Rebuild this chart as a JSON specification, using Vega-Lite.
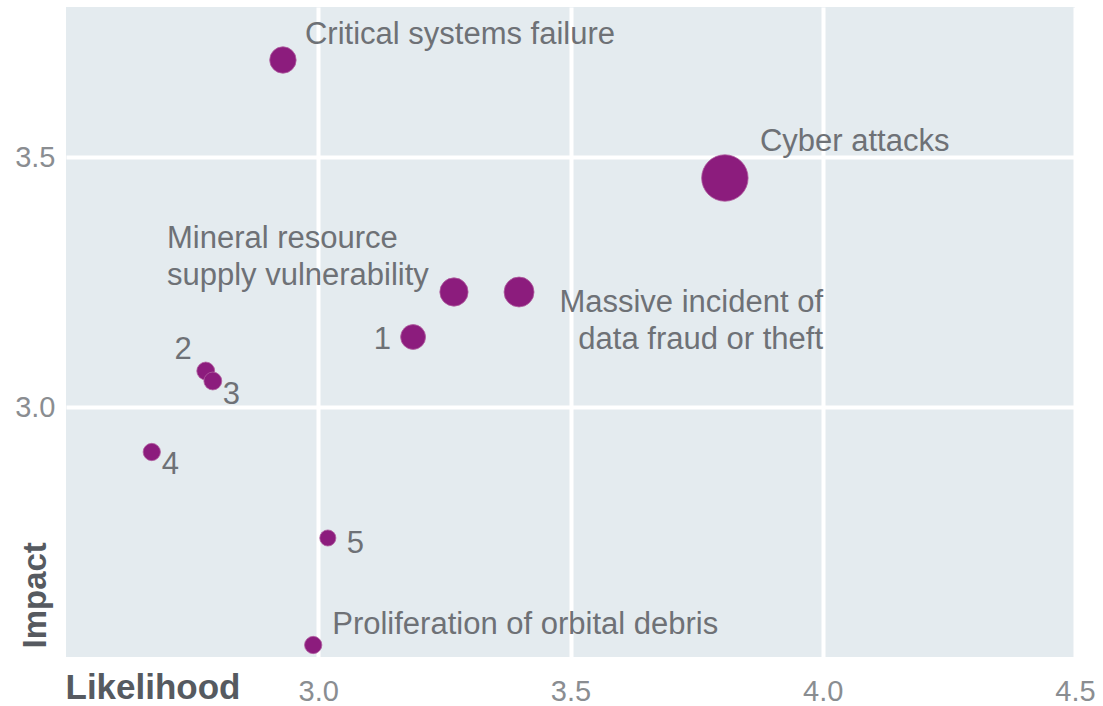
{
  "$schema": "https://vega.github.io/schema/vega-lite/v6.json",
  "autosize": "none",
  "width": 1009,
  "height": 650,
  "padding": {"left": 66, "top": 7, "right": 28, "bottom": 49},
  "background": "white",
  "config": {
    "view": {"fill": "#e4ebef", "stroke": null},
    "font": "Liberation Sans",
    "axis": {
      "domain": false,
      "ticks": false,
      "grid": true,
      "gridColor": "white",
      "gridWidth": 4,
      "labelFont": "Liberation Sans",
      "labelFontSize": 29,
      "labelColor": "#8a8d91",
      "labelFlush": false,
      "titleFont": "Liberation Sans",
      "titleFontWeight": "bold",
      "titleColor": "#565a60"
    },
    "text": {"font": "Liberation Sans", "fontSize": 31, "color": "#6e7176", "baseline": "middle", "lineBreak": "\n", "lineHeight": 37}
  },
  "data": {
    "values": [
      {"name": "Critical systems failure", "label": "Critical systems failure", "likelihood": 2.930, "impact": 3.694, "weight": 35},
      {"name": "Cyber attacks", "label": "Cyber attacks", "likelihood": 3.806, "impact": 3.458, "weight": 108},
      {"name": "Mineral resource supply vulnerability", "label": "Mineral resource\nsupply vulnerability", "likelihood": 3.269, "impact": 3.230, "weight": 40},
      {"name": "Massive incident of data fraud or theft", "label": "Massive incident of\ndata fraud or theft", "likelihood": 3.398, "impact": 3.230, "weight": 45},
      {"name": "1", "label": "1", "likelihood": 3.188, "impact": 3.140, "weight": 31},
      {"name": "2", "label": "2", "likelihood": 2.777, "impact": 3.072, "weight": 16},
      {"name": "3", "label": "3", "likelihood": 2.791, "impact": 3.052, "weight": 16},
      {"name": "4", "label": "4", "likelihood": 2.670, "impact": 2.910, "weight": 15},
      {"name": "5", "label": "5", "likelihood": 3.019, "impact": 2.738, "weight": 13},
      {"name": "Proliferation of orbital debris", "label": "Proliferation of orbital debris", "likelihood": 2.990, "impact": 2.524, "weight": 15}
    ]
  },
  "encoding": {
    "x": {
      "field": "likelihood", "type": "quantitative",
      "scale": {"domain": [2.5, 4.5], "nice": false, "zero": false},
      "axis": {
        "values": [3.0, 3.5, 4.0, 4.5], "format": ".1f", "labelPadding": 20,
        "title": "Likelihood", "titleFontSize": 35, "titleAnchor": null,
        "titleAlign": "left", "titleBaseline": "alphabetic", "titleX": -1, "titleY": 41
      }
    },
    "y": {
      "field": "impact", "type": "quantitative",
      "scale": {"domain": [2.5, 3.8], "nice": false, "zero": false},
      "axis": {
        "values": [3.0, 3.5], "format": ".1f", "labelPadding": 11,
        "title": "Impact", "titleFontSize": 33, "titleAngle": 270, "titleAnchor": null,
        "titleAlign": "left", "titleBaseline": "alphabetic", "titleX": -21, "titleY": 641
      }
    }
  },
  "layer": [
    {
      "mark": {"type": "circle", "color": "#8c1c7d", "opacity": 1, "stroke": "#b0609f", "strokeWidth": 0.8},
      "encoding": {
        "size": {"field": "weight", "type": "quantitative", "scale": {"type": "linear", "domain": [0, 100], "range": [0, 2000], "zero": true}, "legend": null}
      }
    },
    {"transform": [{"filter": "datum.name === 'Critical systems failure'"}], "mark": {"type": "text", "align": "left", "dx": 22, "dy": -25}, "encoding": {"text": {"field": "label"}}},
    {"transform": [{"filter": "datum.name === 'Cyber attacks'"}], "mark": {"type": "text", "align": "left", "dx": 35, "dy": -36}, "encoding": {"text": {"field": "label"}}},
    {"transform": [{"filter": "datum.name === 'Mineral resource supply vulnerability'"}], "mark": {"type": "text", "align": "left", "dx": -287, "dy": -53}, "encoding": {"text": {"field": "label"}}},
    {"transform": [{"filter": "datum.name === 'Massive incident of data fraud or theft'"}], "mark": {"type": "text", "align": "right", "dx": 304, "dy": 11}, "encoding": {"text": {"field": "label"}}},
    {"transform": [{"filter": "datum.name === '1'"}], "mark": {"type": "text", "align": "right", "dx": -22, "dy": 3}, "encoding": {"text": {"field": "label"}}},
    {"transform": [{"filter": "datum.name === '2'"}], "mark": {"type": "text", "align": "right", "dx": -14, "dy": -21}, "encoding": {"text": {"field": "label"}}},
    {"transform": [{"filter": "datum.name === '3'"}], "mark": {"type": "text", "align": "left", "dx": 10, "dy": 14}, "encoding": {"text": {"field": "label"}}},
    {"transform": [{"filter": "datum.name === '4'"}], "mark": {"type": "text", "align": "left", "dx": 10, "dy": 13}, "encoding": {"text": {"field": "label"}}},
    {"transform": [{"filter": "datum.name === '5'"}], "mark": {"type": "text", "align": "left", "dx": 19, "dy": 6}, "encoding": {"text": {"field": "label"}}},
    {"transform": [{"filter": "datum.name === 'Proliferation of orbital debris'"}], "mark": {"type": "text", "align": "left", "dx": 19, "dy": -20}, "encoding": {"text": {"field": "label"}}}
  ]
}
